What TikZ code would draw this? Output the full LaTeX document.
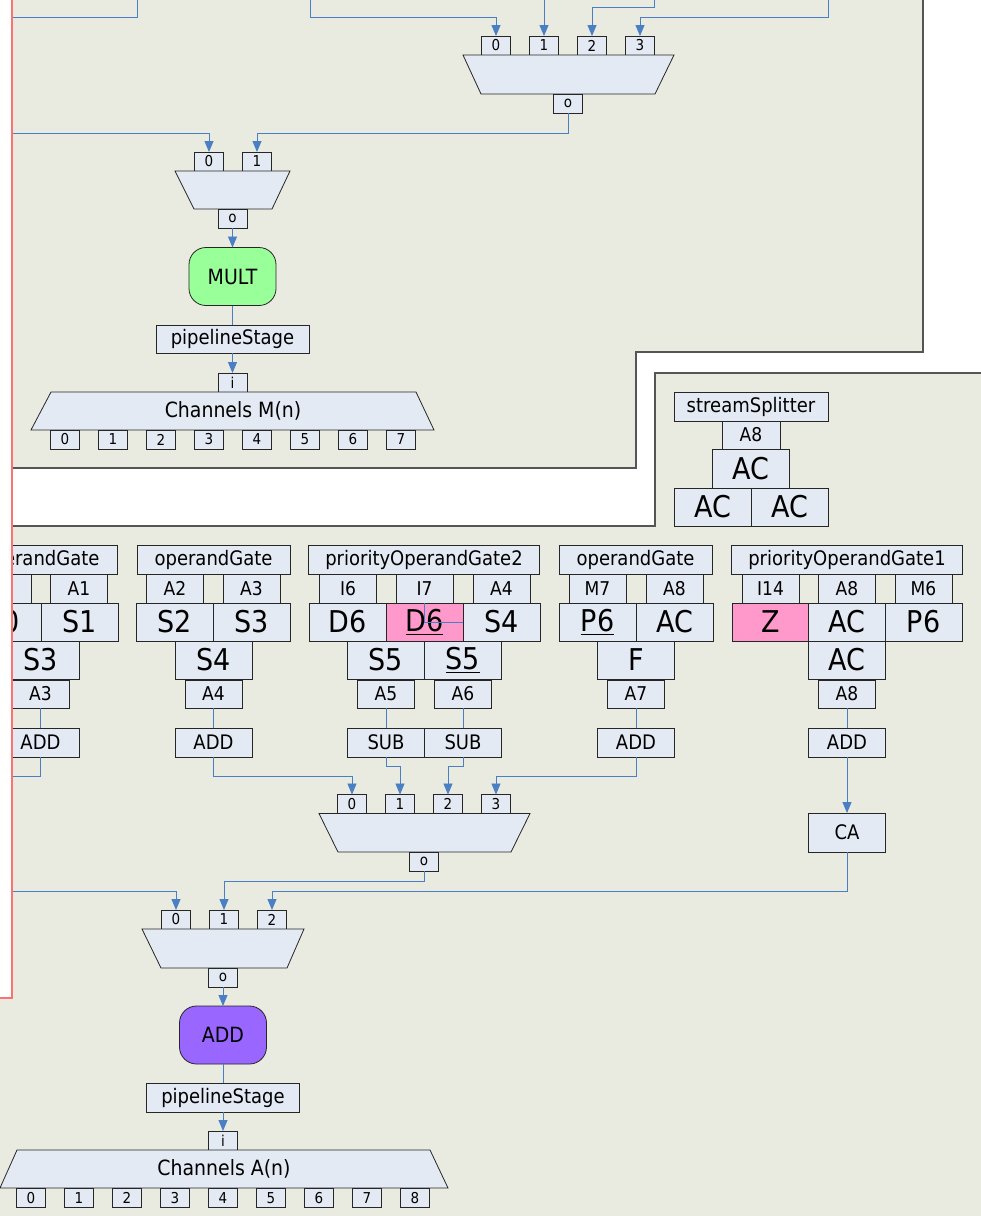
\documentclass[tikz,border=0pt]{standalone}
\usepackage{fontspec}
\setmainfont{DejaVu Sans}[FakeStretch=0.9]
\usetikzlibrary{arrows.meta}

\definecolor{panelbg}{HTML}{E9EAE0}
\definecolor{cellfill}{HTML}{E4EAF4}
\definecolor{wireblue}{HTML}{4A7EC5}
\definecolor{hotpink}{HTML}{FF99CC}
\definecolor{multgreen}{HTML}{99FF99}
\definecolor{addpurple}{HTML}{9966FF}
\definecolor{edgered}{HTML}{FF7070}
\definecolor{panelline}{HTML}{555555}

\begin{document}
\begin{tikzpicture}[x=1pt,y=-1pt,inner sep=0pt,outer sep=0pt,
>={Triangle[length=11pt,width=9pt]},
wire/.style={wireblue,line width=0.9pt},
port/.style={draw=black!85,fill=cellfill,line width=0.8pt,minimum width=29pt,minimum height=19pt,font=\fontsize{15}{15}\selectfont},
inbox/.style={draw=black!85,fill=cellfill,line width=0.8pt,minimum width=57pt,minimum height=29pt,font=\fontsize{19}{19}\selectfont},
titlebox/.style={inbox,minimum width=153pt,font=\fontsize{20}{20}\selectfont},
bigcell/.style={inbox,minimum width=77pt,minimum height=38pt,font=\fontsize{30}{30}\selectfont},
opbox/.style={inbox,minimum width=77pt,font=\fontsize{20}{20}\selectfont},
muxbody/.style={draw=black!85,fill=cellfill,line width=0.8pt},
unitbox/.style={draw=black!85,line width=0.8pt,rounded corners=17pt,minimum width=87pt,minimum height=58pt,font=\fontsize{21}{21}\selectfont}]

\useasboundingbox (0,0) rectangle (981,1216);

% the two panels
\fill[white] (0,0) rectangle (981,1216);
\fill[panelbg] (12,0) -- (923,0) -- (923,352) -- (636,352) -- (636,468) -- (12,468) -- cycle;
\draw[panelline,line width=1.2pt] (923,0) -- (923,352) -- (636,352) -- (636,468) -- (12,468);
\fill[panelbg] (12,526) -- (655,526) -- (655,373) -- (981,373) -- (981,1216) -- (0,1216) -- (0,998) -- (12,998) -- cycle;
\draw[panelline,line width=1.2pt] (12,526) -- (655,526) -- (655,373) -- (981,373);

% upper mux, four inputs
\draw (496,45.5) node[port] (m1in0) {0};
\draw (544,45.5) node[port] (m1in1) {1};
\draw (592,45.5) node[port] (m1in2) {2};
\draw (640,45.5) node[port] (m1in3) {3};
\filldraw[muxbody] (463,55) -- (674,55) -- (655,94) -- (481,94) -- cycle;
\draw (568,103.5) node[port] (m1out) {o};

\coordinate (t0) at (310,0);
\coordinate (t1) at (544,0);
\coordinate (t2) at (654,0);
\coordinate (t3) at (828,0);
\coordinate (t4) at (137,0);
\coordinate (l1) at (12,17);
\draw[wire,->] (t0) -- ++(0,17) -| (m1in0.north);
\draw[wire,->] (t1) -- (m1in1.north);
\draw[wire,->] (t2) -- ++(0,7) -| (m1in2.north);
\draw[wire,->] (t3) -- ++(0,17) -| (m1in3.north);
\draw[wire] (t4) |- (l1);

% mux in front of MULT
\draw (209,161.5) node[port] (m2in0) {0};
\draw (257,161.5) node[port] (m2in1) {1};
\filldraw[muxbody] (175,171) -- (290,171) -- (272,209) -- (194,209) -- cycle;
\draw (232.5,218.5) node[port] (m2out) {o};
\coordinate (l2) at (12,133);
\draw[wire,->] (l2) -| (m2in0.north);
\draw[wire,->] (m1out.south) -- ++(0,20) -| (m2in1.north);

\draw (232.5,276.5) node[unitbox,fill=multgreen] (mult) {MULT};
\draw (232.5,339) node[titlebox,minimum height=28pt] (pipeM) {pipelineStage};
\draw (232.5,382.5) node[port] (inM) {i};
\filldraw[muxbody] (51,392) -- (416,392) -- (434,430) -- (31,430) -- cycle;
\draw (233,411) node[font=\fontsize{21}{21}\selectfont] (chM) {Channels M(n)};
\draw (65,439.5) node[port] (chM0) {0};
\draw (113,439.5) node[port] (chM1) {1};
\draw (161,439.5) node[port] (chM2) {2};
\draw (209,439.5) node[port] (chM3) {3};
\draw (257,439.5) node[port] (chM4) {4};
\draw (305,439.5) node[port] (chM5) {5};
\draw (353,439.5) node[port] (chM6) {6};
\draw (401,439.5) node[port] (chM7) {7};
\draw[wire,->] (m2out.south) -- (mult.north);
\draw[wire] (mult.south) -- (pipeM.north);
\draw[wire,->] (pipeM.south) -- (inM.north);

% stream splitter
\draw (751,406.5) node[titlebox,minimum width=154pt] (split) {streamSplitter};
\draw (751,435) node[inbox,minimum width=58pt,minimum height=28pt] (splitA8) {A8};
\draw (751,468.5) node[bigcell,minimum height=39pt] (splitAC) {AC};
\draw (712.5,507) node[bigcell] (splitACl) {AC};
\draw (789.5,507) node[bigcell] (splitACr) {AC};

% operand gates
\begin{scope}
\clip (12,0) rectangle (981,1216);
\draw (40.5,559.5) node[titlebox] (gaT) {operandGate};
\draw (2.5,588.5) node[inbox] (gaA0) {A0};
\draw (79,588.5) node[inbox] (gaA1) {A1};
\draw (2.5,622) node[bigcell] (gaS0) {S0};
\draw (79.5,622) node[bigcell] (gaS1) {S1};
\draw (40.5,660) node[bigcell] (gaS3) {S3};
\draw (40.5,694) node[inbox,minimum height=28pt] (gaA3) {A3};
\draw (40.5,742.5) node[opbox] (gaOp) {ADD};
\end{scope}

\draw (213.5,559.5) node[titlebox] (gbT) {operandGate};
\draw (175,588.5) node[inbox] (gbA2) {A2};
\draw (251.5,588.5) node[inbox] (gbA3) {A3};
\draw (175,622) node[bigcell] (gbS2) {S2};
\draw (252,622) node[bigcell] (gbS3) {S3};
\draw (213.5,660) node[bigcell] (gbS4) {S4};
\draw (213.5,694) node[inbox,minimum height=28pt] (gbA4) {A4};
\draw (213.5,742.5) node[opbox] (gbOp) {ADD};

\draw (424,559.5) node[titlebox,minimum width=231pt] (gcT) {priorityOperandGate2};
\draw (348,588.5) node[inbox] (gcI6) {I6};
\draw (424.5,588.5) node[inbox] (gcI7) {I7};
\draw (501.5,588.5) node[inbox] (gcA4) {A4};
\draw (347.5,622) node[bigcell] (gcD6a) {D6};
\draw (424.5,622) node[bigcell,fill=hotpink] (gcD6b) {\underline{D6}};
\draw (501.5,622) node[bigcell] (gcS4) {S4};
\draw (386,660) node[bigcell] (gcS5a) {S5};
\draw (463,660) node[bigcell] (gcS5b) {\underline{S5}};
\draw (386,694) node[inbox,minimum height=28pt] (gcA5) {A5};
\draw (463,694) node[inbox,minimum height=28pt] (gcA6) {A6};
\draw (386,742.5) node[opbox] (gcSubA) {SUB};
\draw (463,742.5) node[opbox] (gcSubB) {SUB};

\draw (635.5,559.5) node[titlebox] (gdT) {operandGate};
\draw (597.5,588.5) node[inbox] (gdM7) {M7};
\draw (674.5,588.5) node[inbox] (gdA8) {A8};
\draw (597.5,622) node[bigcell] (gdP6) {\underline{P6}};
\draw (674.5,622) node[bigcell] (gdAC) {AC};
\draw (636,660) node[bigcell] (gdF) {F};
\draw (636,694) node[inbox,minimum height=28pt] (gdA7) {A7};
\draw (636,742.5) node[opbox] (gdOp) {ADD};

\draw (847,559.5) node[titlebox,minimum width=231pt] (geT) {priorityOperandGate1};
\draw (770.5,588.5) node[inbox] (geI14) {I14};
\draw (847,588.5) node[inbox] (geA8) {A8};
\draw (923.5,588.5) node[inbox] (geM6) {M6};
\draw (770.5,622) node[bigcell,fill=hotpink] (geZ) {Z};
\draw (847,622) node[bigcell] (geAC) {AC};
\draw (923.5,622) node[bigcell] (geP6) {P6};
\draw (847,660) node[bigcell] (geACb) {AC};
\draw (847,694) node[inbox,minimum height=28pt] (geA8b) {A8};
\draw (847,742.5) node[opbox] (geOp) {ADD};
\draw (847,832.5) node[opbox,minimum height=39pt] (geCA) {CA};

% mux after the gates
\draw (352,804) node[port] (m3in0) {0};
\draw (400,804) node[port] (m3in1) {1};
\draw (448,804) node[port] (m3in2) {2};
\draw (496,804) node[port] (m3in3) {3};
\filldraw[muxbody] (319,813.5) -- (530,813.5) -- (511,852) -- (338,852) -- cycle;
\draw (424,861.5) node[port] (m3out) {o};

% mux in front of ADD
\draw (176,919.5) node[port] (m4in0) {0};
\draw (224,919.5) node[port] (m4in1) {1};
\draw (272,919.5) node[port] (m4in2) {2};
\filldraw[muxbody] (142,929) -- (304,929) -- (287,968) -- (161,968) -- cycle;
\draw (223,977.5) node[port] (m4out) {o};

\draw (223,1035) node[unitbox,fill=addpurple] (addA) {ADD};
\draw (223,1097.5) node[titlebox] (pipeA) {pipelineStage};
\draw (223,1140.5) node[port] (inA) {i};
\filldraw[muxbody] (17,1150) -- (430,1150) -- (448,1188) -- (0,1188) -- cycle;
\draw (224,1169) node[font=\fontsize{21}{21}\selectfont] (chA) {Channels A(n)};
\draw (31,1198) node[port] (chA0) {0};
\draw (79,1198) node[port] (chA1) {1};
\draw (127,1198) node[port] (chA2) {2};
\draw (175,1198) node[port] (chA3) {3};
\draw (223,1198) node[port] (chA4) {4};
\draw (271,1198) node[port] (chA5) {5};
\draw (319,1198) node[port] (chA6) {6};
\draw (367,1198) node[port] (chA7) {7};
\draw (415,1198) node[port] (chA8) {8};

% wiring of the lower panel
\coordinate (l3) at (12,776);
\coordinate (l4) at (12,891);
\draw[wire] (gcI7.south) |- (gcD6b.east);
\draw[wire] (gaA3.south) -- (gaOp.north);
\draw[wire] (gaOp.south) |- (l3);
\draw[wire] (gbA4.south) -- (gbOp.north);
\draw[wire,->] (gbOp.south) -- ++(0,19) -| (m3in0.north);
\draw[wire] (gcA5.south) -- (gcSubA.north);
\draw[wire] (gcA6.south) -- (gcSubB.north);
\draw[wire,->] (gcSubA.south) -- ++(0,9) -| (m3in1.north);
\draw[wire,->] (gcSubB.south) -- ++(0,9) -| (m3in2.north);
\draw[wire] (gdA7.south) -- (gdOp.north);
\draw[wire,->] (gdOp.south) -- ++(0,19) -| (m3in3.north);
\draw[wire] (geA8b.south) -- (geOp.north);
\draw[wire,->] (geOp.south) -- (geCA.north);
\draw[wire,->] (geCA.south) -- ++(0,39) -| (m4in2.north);
\draw[wire,->] (m3out.south) -- ++(0,10) -| (m4in1.north);
\draw[wire,->] (l4) -| (m4in0.north);
\draw[wire,->] (m4out.south) -- (addA.north);
\draw[wire] (addA.south) -- (pipeA.north);
\draw[wire,->] (pipeA.south) -- (inA.north);

% left edge
\draw[edgered,line width=1.6pt] (12,0) -- (12,998) -- (0,998);
\end{tikzpicture}
\end{document}
